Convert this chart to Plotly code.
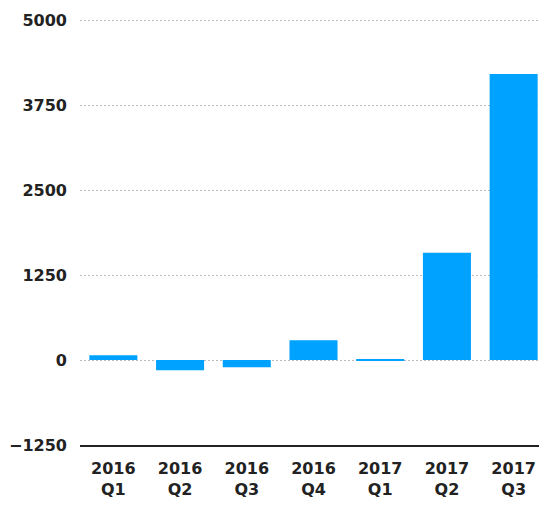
import plotly.graph_objects as go

categories = ["2016<br>Q1", "2016<br>Q2", "2016<br>Q3", "2016<br>Q4", "2017<br>Q1", "2017<br>Q2", "2017<br>Q3"]
values = [70, -150, -105, 290, 15, 1580, 4210]
y_tickvals = [-1250, 0, 1250, 2500, 3750, 5000]
y_ticktext = ["\u22121250", "0", "1250", "2500", "3750", "5000"]

fig = go.Figure(go.Bar(x=categories, y=values, marker=dict(color="#00A2FF", line=dict(width=0)), width=0.72))

fig.update_layout(
    width=539, height=497,
    margin=dict(l=72, r=0, t=10, b=60),
    plot_bgcolor="white", paper_bgcolor="white",
    font=dict(family="DejaVu Sans", size=16, color="#222222", weight=600),
    showlegend=False,
    bargap=0.28,
)
fig.update_yaxes(
    range=[-1250, 5035], tickvals=y_tickvals, ticktext=y_ticktext,
    showgrid=True, gridcolor="#BBBBBB", griddash="2px,2px", gridwidth=1,
    zeroline=False, showline=False, ticks="", ticklabelstandoff=12,
)
fig.update_xaxes(
    showline=True, linecolor="#222222", linewidth=1.5, ticks="", ticklabelstandoff=8,
    automargin=False,
)
fig.write_html("out.html")
